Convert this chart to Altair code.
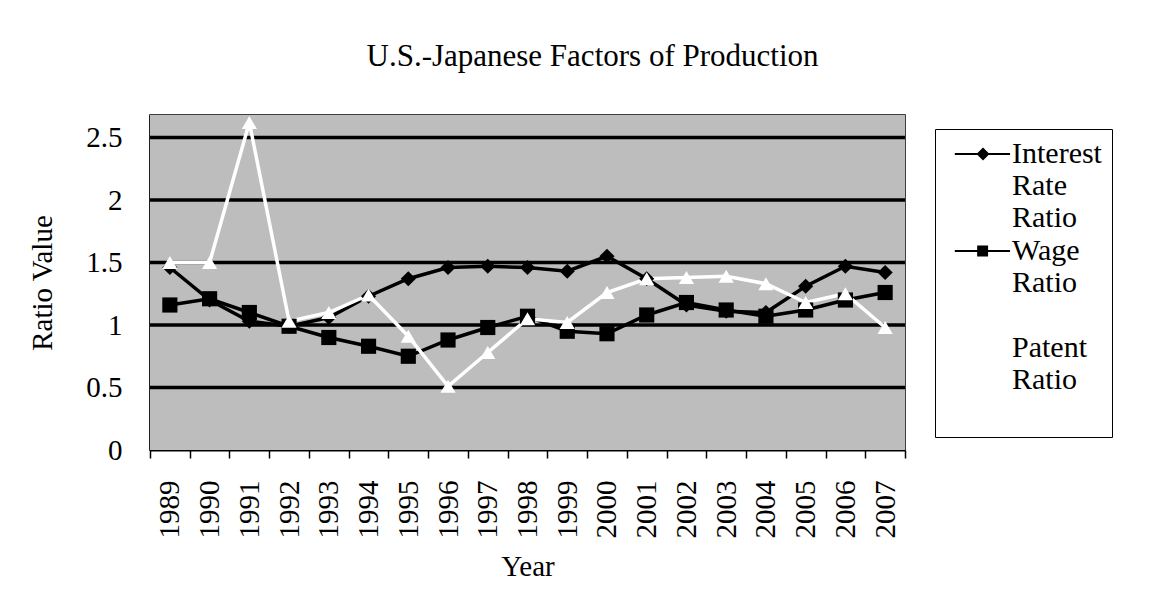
import altair as alt
import pandas as pd

years = ["1989", "1990", "1991", "1992", "1993", "1994", "1995", "1996", "1997", "1998",
         "1999", "2000", "2001", "2002", "2003", "2004", "2005", "2006", "2007"]
series_names = ["Interest Rate Ratio", "Wage Ratio", "Patent Ratio"]
interest = [1.46, 1.20, 1.03, 0.99, 1.06, 1.23, 1.37, 1.46, 1.47, 1.46,
            1.43, 1.55, 1.37, 1.16, 1.11, 1.10, 1.31, 1.47, 1.42]
wage = [1.16, 1.21, 1.10, 0.99, 0.90, 0.83, 0.75, 0.88, 0.98, 1.07,
        0.95, 0.93, 1.08, 1.18, 1.12, 1.07, 1.12, 1.20, 1.26]
patent = [1.50, 1.50, 2.62, 1.03, 1.10, 1.24, 0.91, 0.51, 0.78, 1.05,
          1.02, 1.26, 1.37, 1.38, 1.39, 1.33, 1.18, 1.25, 0.98]
y_ticks = [0, 0.5, 1, 1.5, 2, 2.5]
grid_values = [0.5, 1, 1.5, 2, 2.5]
y_domain = [0, 2.68]

rows = []
for name, vals in zip(series_names, [interest, wage, patent]):
    for yr, v in zip(years, vals):
        rows.append({"Year": yr, "Series": name, "Value": v})
df = pd.DataFrame(rows)

FONT = "Liberation Serif"

x_enc = alt.X(
    "Year:O", sort=years,
    scale=alt.Scale(type="band", paddingInner=0, paddingOuter=0),
    axis=alt.Axis(
        title="Year", labelAngle=-90, tickBand="extent", grid=False,
        domainColor="black", domainWidth=2, tickColor="black", tickSize=8, tickWidth=1.5,
        labelPadding=22, labelFont=FONT, labelFontSize=29, labelColor="black",
        titleFont=FONT, titleFontSize=29, titleFontWeight="normal", titleColor="black",
        titlePadding=14,
    ),
)
y_scale = alt.Scale(domain=y_domain, nice=False, zero=True)
y_enc = alt.Y(
    "Value:Q",
    scale=y_scale,
    axis=alt.Axis(
        values=y_ticks, format="~g", title="Ratio Value", grid=False, ticks=False,
        domainColor="black", domainWidth=2, labelPadding=28,
        labelFont=FONT, labelFontSize=29, labelColor="black",
        titleFont=FONT, titleFontSize=29, titleFontWeight="normal", titleColor="black",
        titlePadding=28,
    ),
)
color_enc = alt.Color("Series:N", scale=alt.Scale(domain=series_names, range=["black", "black", "white"]), legend=None)

base = alt.Chart(df)

# plot-area background and horizontal gridlines (drawn under the series)
background = alt.Chart(pd.DataFrame({"lo": [y_domain[0]], "hi": [y_domain[1]]})).mark_rect(
    color="#bdbdbd", opacity=1
).encode(y=alt.Y("lo:Q", scale=y_scale), y2="hi:Q")
grid = alt.Chart(pd.DataFrame({"v": grid_values})).mark_rule(color="black", strokeWidth=3.5).encode(
    y=alt.Y("v:Q", scale=y_scale)
)

lines = base.mark_line(strokeWidth=3.5).encode(x=x_enc, y=y_enc, color=color_enc)
points = base.mark_point(filled=True, size=230, opacity=1).encode(
    x=x_enc, y=y_enc, color=color_enc,
    shape=alt.Shape("Series:N", scale=alt.Scale(domain=series_names, range=["diamond", "square", "triangle-up"]), legend=None),
)

# legend symbols: a thin bar (the line) with the marker on it
LINE_BAR = "M-0.4,-0.08H3.85V0.08H-0.4Z"
DIAMOND = "M1.77,-0.5L2.27,0L1.77,0.5L1.27,0Z"
SQUARE = "M1.32,-0.42H2.16V0.42H1.32Z"
legend_paths = [LINE_BAR + DIAMOND, LINE_BAR + SQUARE, "M0,0"]

legend_layer = base.transform_filter("false").mark_point(filled=True, color="black", opacity=1).encode(
    shape=alt.Shape(
        "Series:N",
        scale=alt.Scale(domain=series_names, range=legend_paths),
        legend=alt.Legend(
            title=None, orient="none", legendX=785, legendY=14, padding=10,
            strokeColor="black", fillColor="white",
            labelFont=FONT, labelFontSize=30, labelColor="black", labelLimit=400,
            labelOffset=37, rowPadding=3, symbolSize=676,
            labelExpr="datum.label == 'Patent Ratio' ? ['', 'Patent', 'Ratio', ''] : split(datum.label, ' ')",
        ),
    )
)

chart = alt.layer(background, grid, lines, points, legend_layer).resolve_scale(shape="independent").properties(
    width=755, height=335,
    autosize=alt.AutoSizeParams(type="none"),
    padding={"left": 142, "top": 107, "right": 238, "bottom": 140},
    title=alt.Title("U.S.-Japanese Factors of Production", font=FONT, fontSize=31, fontWeight="normal",
                    color="black", anchor="middle", frame="group", dx=65, baseline="alphabetic", offset=18),
).configure(background="white").configure_view(stroke="black", strokeWidth=1.5)

chart.save("out.html", embed_options={"renderer": "svg", "actions": False})
